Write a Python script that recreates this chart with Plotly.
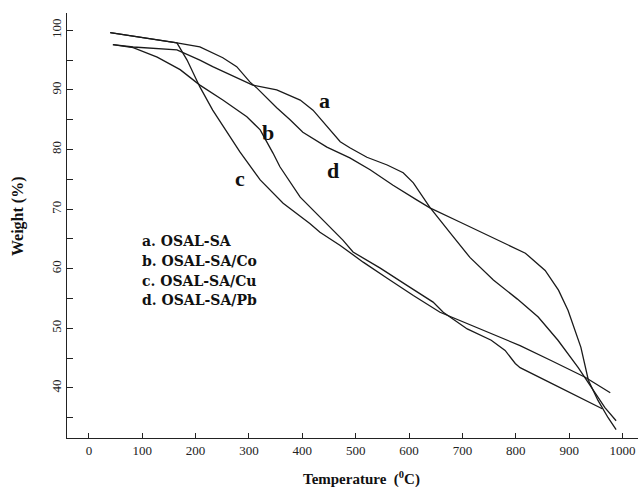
import plotly.graph_objects as go

# ---- data (Temperature in °C, Weight in %) ----
temp_a = [45, 83, 165, 208, 232, 307, 352, 396, 420, 446, 471, 489, 521, 559, 589, 608, 621, 639,
          677, 714, 758, 803, 842, 879, 917, 941, 967, 988]
wt_a = [97.6, 97.2, 96.7, 95.0, 93.9, 90.8, 90.0, 88.3, 86.6, 83.8, 81.3, 80.3, 78.7, 77.4, 76.1, 74.4, 72.7, 70.3,
        66.0, 61.9, 58.1, 54.9, 51.9, 48.0, 43.4, 40.1, 36.7, 34.5]

temp_b = [45, 83, 128, 171, 208, 251, 296, 321, 345, 358, 396, 439, 476, 495, 546, 596, 645, 664,
          709, 754, 780, 799, 808, 866, 930, 962]
wt_b = [97.6, 97.1, 95.5, 93.4, 90.8, 88.3, 85.5, 83.3, 79.4, 77.1, 72.0, 68.2, 64.8, 62.8, 60.1, 57.2, 54.4, 52.7,
        49.9, 48.0, 46.3, 44.1, 43.4, 40.8, 37.9, 36.5]

temp_c = [40, 100, 165, 184, 208, 232, 264, 283, 321, 364, 414, 433, 471, 514, 559, 608, 658,
          709, 730, 786, 808, 866, 930, 977]
wt_c = [99.6, 98.8, 97.9, 95.0, 90.5, 86.6, 82.1, 79.6, 74.9, 71.0, 67.6, 66.1, 63.9, 61.1, 58.4, 55.5, 52.7,
        50.8, 50.0, 48.0, 47.1, 44.6, 41.8, 39.2]

temp_d = [40, 100, 165, 208, 251, 277, 302, 315, 352, 377, 401, 446, 489, 527, 570, 615, 639,
          696, 767, 818, 855, 880, 898, 922, 936, 954, 973, 988]
wt_d = [99.6, 98.8, 97.9, 97.2, 95.4, 93.9, 91.3, 90.3, 87.0, 85.0, 82.9, 80.4, 78.6, 76.6, 74.0, 71.5, 70.2,
        67.8, 64.8, 62.6, 59.7, 56.4, 53.0, 46.8, 41.3, 37.9, 35.0, 33.0]

series_names = ["a. OSAL-SA", "b. OSAL-SA/Co", "c. OSAL-SA/Cu", "d. OSAL-SA/Pb"]
curve_letters = ["a", "b", "c", "d"]
letter_pos_x = [442, 336, 283, 457]
letter_pos_y = [88.2, 82.9, 75.2, 76.4]
legend_x = 96
legend_y = [64.6, 61.3, 57.9, 54.7]

x_ticks = list(range(0, 1001, 100))

SERIF = "Liberation Serif, Times New Roman, serif"
BOLD_SERIF = "DejaVu Serif, serif"

fig = go.Figure()
for xs, ys, name in zip([temp_a, temp_b, temp_c, temp_d], [wt_a, wt_b, wt_c, wt_d], series_names):
    fig.add_trace(go.Scatter(x=xs, y=ys, mode="lines", name=name,
                             line=dict(color="#1a1a1a", width=1.3), showlegend=False))

annotations = []
for t, lx, ly in zip(curve_letters, letter_pos_x, letter_pos_y):
    annotations.append(dict(x=lx, y=ly, xref="x", yref="y", text="<b>%s</b>" % t, showarrow=False,
                            xanchor="center", yanchor="middle",
                            font=dict(family=SERIF, size=22, color="#111")))
for name, ly in zip(series_names, legend_y):
    annotations.append(dict(x=legend_x, y=ly, xref="x", yref="y", text="<b>%s</b>" % name, showarrow=False,
                            xanchor="left", yanchor="middle",
                            font=dict(family=BOLD_SERIF, size=14, color="#111")))
annotations.append(dict(x=-0.086, y=0.522, xref="paper", yref="paper", text="<b>Weight (%)</b>",
                        showarrow=False, textangle=-90, xanchor="center", yanchor="middle",
                        font=dict(family=SERIF, size=16, color="#111")))
annotations.append(dict(x=0.515, y=-0.095, xref="paper", yref="paper",
                        text="<b>Temperature  (<sup>0</sup>C)</b>", xanchor="center", yanchor="middle",
                        showarrow=False, font=dict(family=SERIF, size=15, color="#111")))

fig.update_layout(
    width=638, height=487,
    margin=dict(l=67, r=0, t=13, b=49),
    paper_bgcolor="white", plot_bgcolor="white",
    annotations=annotations,
    xaxis=dict(range=[-41, 1029], tickmode="array", tickvals=x_ticks, ticks="inside", ticklen=5,
               tickcolor="#222", showline=True, linecolor="#222", linewidth=1, showgrid=False,
               zeroline=False, tickfont=dict(family=SERIF, size=13, color="#222"), automargin=False),
    yaxis=dict(range=[31.6, 102.9], tickmode="linear", tick0=0, dtick=10, ticks="inside", ticklen=6,
               tickcolor="#222", showline=True, linecolor="#222", linewidth=1, showgrid=False,
               zeroline=False, tickangle=-90, tickfont=dict(family=SERIF, size=13, color="#222"),
               minor=dict(ticks="inside", ticklen=6, dtick=5, tick0=0, tickcolor="#222", showgrid=False),
               automargin=False),
)

fig.write_html("out.html", config={"displayModeBar": False},
               post_script="document.body.style.margin='0px';document.body.style.overflow='hidden';")
